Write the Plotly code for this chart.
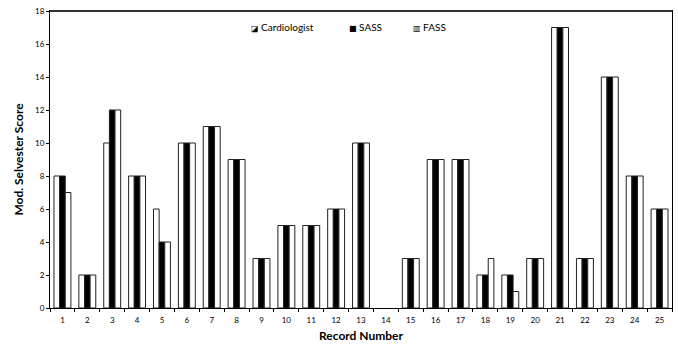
import plotly.graph_objects as go

records = [str(i) for i in range(1, 26)]
cardiologist = [8, 2, 10, 8, 6, 10, 11, 9, 3, 5, 5, 6, 10, 0, 3, 9, 9, 2, 2, 3, 17, 3, 14, 8, 6]
sass = [8, 2, 12, 8, 4, 10, 11, 9, 3, 5, 5, 6, 10, 0, 3, 9, 9, 2, 2, 3, 17, 3, 14, 8, 6]
fass = [7, 2, 12, 8, 4, 10, 11, 9, 3, 5, 5, 6, 10, 0, 3, 9, 9, 3, 1, 3, 17, 3, 14, 8, 6]
series_names = ["Cardiologist", "SASS", "FASS"]
legend_icons = ["◪", "■", "▥"]
y_ticks = list(range(0, 19, 2))

font = "Lato, 'Open Sans', sans-serif"


def lw(vals):
    return [1 if v > 0 else 0 for v in vals]


fig = go.Figure()
colors = ["white", "black", "white"]
for name, vals, col in zip(series_names, [cardiologist, sass, fass], colors):
    fig.add_trace(go.Bar(x=records, y=vals, name=name, showlegend=False,
                         marker=dict(color=col, line=dict(color="#222", width=lw(vals)))))

W, H = 678, 347
ml, mr, mt, mb = 50, 6, 11, 39
pw = W - ml - mr
ph = H - mt - mb


def px_x(px):
    return (px - ml) / pw


def px_y(py):
    return (H - mb - py) / ph


legend_px = [249, 347, 411]
for name, icon, lx in zip(series_names, legend_icons, legend_px):
    fig.add_annotation(xref="paper", yref="paper", x=px_x(lx), y=px_y(27),
                       xanchor="left", yanchor="middle", showarrow=False,
                       text=f"<span style='font-family:DejaVu Sans;font-size:8px'>{icon}</span> {name}",
                       font=dict(size=10, family=font, color="black"))

fig.update_layout(
    width=W, height=H,
    margin=dict(l=ml, r=mr, t=mt, b=mb),
    paper_bgcolor="white", plot_bgcolor="white",
    barmode="group", bargap=0.32, bargroupgap=0,
    font=dict(family=font, size=8, color="black"),
    showlegend=False,
    xaxis=dict(type="category", showline=True, linecolor="black", linewidth=1, mirror=True,
               ticks="outside", tickson="boundaries", ticklen=3, tickcolor="black",
               showgrid=False, ticklabelstandoff=4,
               title=dict(text="<b>Record Number</b>", font=dict(size=12), standoff=8)),
    yaxis=dict(range=[0, 18], tickvals=y_ticks, showline=True, linecolor="black", linewidth=1,
               mirror=True, ticks="outside", ticklen=3, tickcolor="black", showgrid=False,
               zeroline=False,
               title=dict(text="<b>Mod. Selvester Score</b>", font=dict(size=12), standoff=8)),
)
fig.add_shape(type="line", xref="paper", yref="paper", x0=0, x1=1, y0=1, y1=1,
              line=dict(color="#333", width=2))

fig.write_html("out.html")
